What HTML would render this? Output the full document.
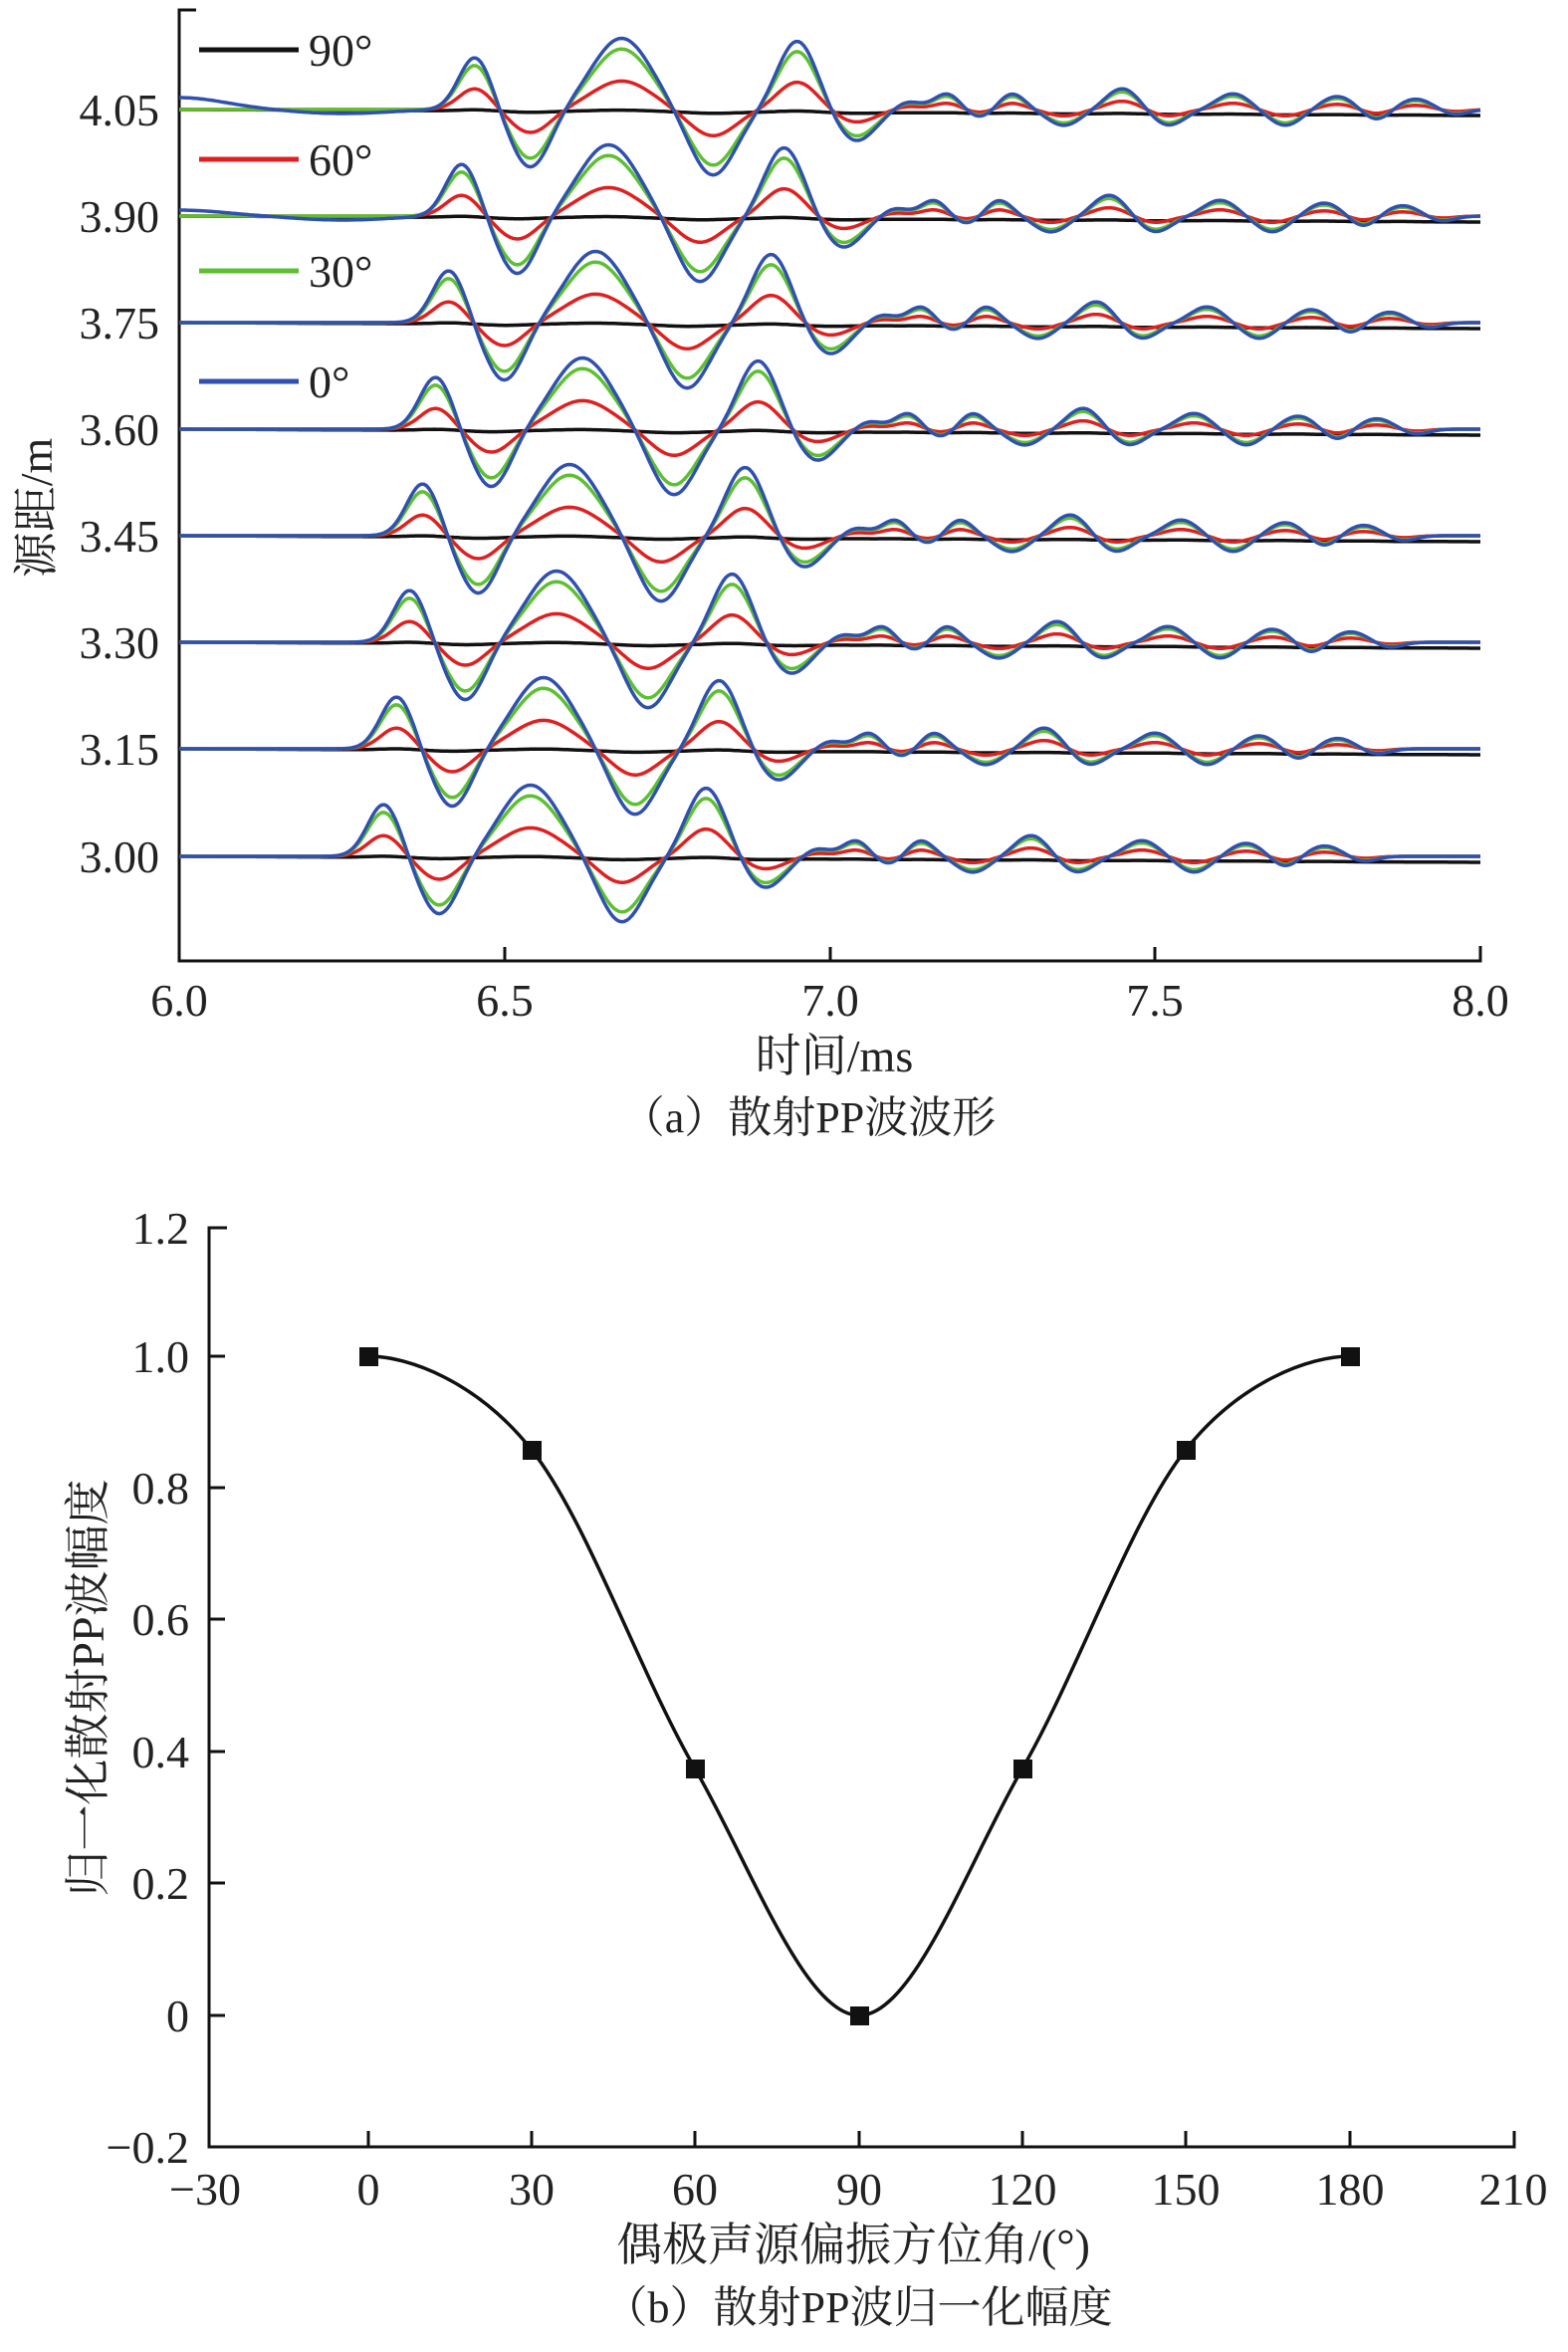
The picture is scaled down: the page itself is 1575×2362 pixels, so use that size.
<!DOCTYPE html>
<html><head><meta charset="utf-8">
<style>
html,body{margin:0;padding:0;background:#fff;}
svg{display:block;}
text{font-family:"Liberation Serif","Noto Serif CJK SC",serif;fill:#222;}
</style></head>
<body>
<svg id="s" width="1575" height="2362" viewBox="0 0 1575 2362" xmlns="http://www.w3.org/2000/svg">
<g stroke="#111" stroke-width="3" fill="none">
<path d="M197 10 H180 V965 H1487 V950"/>
<path d="M180 110 h14 M180 217 h14 M180 324 h14 M180 431 h14 M180 538 h14 M180 645 h14 M180 752 h14 M180 860 h14"/>
<path d="M507 965 v-14 M834 965 v-14 M1160 965 v-14"/>
</g>
<g font-size="46" text-anchor="end">
<text x="160" y="126">4.05</text><text x="160" y="233">3.90</text><text x="160" y="340">3.75</text>
<text x="160" y="447">3.60</text><text x="160" y="554">3.45</text><text x="160" y="661">3.30</text>
<text x="160" y="768">3.15</text><text x="160" y="876">3.00</text>
</g>
<g font-size="46" text-anchor="middle">
<text x="180" y="1020">6.0</text><text x="507" y="1020">6.5</text><text x="834" y="1020">7.0</text>
<text x="1160" y="1020">7.5</text><text x="1487" y="1020">8.0</text>
<text x="838" y="1076">时间/ms</text>
<text x="812" y="1137" font-size="44">（a）散射PP波波形</text>
</g>
<text font-size="46" text-anchor="middle" transform="translate(52,510) rotate(-90)">源距/m</text>
<g id="waves" fill="none" stroke-width="3.5" stroke-linejoin="round"></g>
<g stroke-width="5">
<line x1="200" y1="50" x2="300" y2="50" stroke="#111"/>
<line x1="200" y1="160" x2="300" y2="160" stroke="#e02020"/>
<line x1="200" y1="272" x2="300" y2="272" stroke="#5cc030"/>
<line x1="200" y1="383" x2="300" y2="383" stroke="#3050b0"/>
</g>
<g font-size="46"><text x="310" y="66">90°</text><text x="310" y="176">60°</text><text x="310" y="288">30°</text><text x="310" y="399">0°</text></g>

<g stroke="#111" stroke-width="3" fill="none">
<path d="M228 1233 H210 V2156 H1521 V2140"/>
<path d="M210 1362 h16 M210 1494 h16 M210 1626 h16 M210 1759 h16 M210 1891 h16 M210 2024 h16"/>
<path d="M370 2156 v-16 M534 2156 v-16 M698 2156 v-16 M863 2156 v-16 M1027 2156 v-16 M1191 2156 v-16 M1356 2156 v-16"/>
</g>
<g font-size="46" text-anchor="end">
<text x="190" y="1249">1.2</text><text x="190" y="1378">1.0</text><text x="190" y="1510">0.8</text>
<text x="190" y="1642">0.6</text><text x="190" y="1775">0.4</text><text x="190" y="1907">0.2</text>
<text x="190" y="2040">0</text><text x="190" y="2172">−0.2</text>
</g>
<g font-size="46" text-anchor="middle">
<text x="206" y="2214">−30</text><text x="370" y="2214">0</text><text x="534" y="2214">30</text>
<text x="698" y="2214">60</text><text x="863" y="2214">90</text><text x="1027" y="2214">120</text>
<text x="1191" y="2214">150</text><text x="1356" y="2214">180</text><text x="1520" y="2214">210</text>
<text x="857" y="2270">偶极声源偏振方位角/(°)</text>
<text x="862" y="2332" font-size="44">（b）散射PP波归一化幅度</text>
</g>
<text font-size="46" text-anchor="middle" transform="translate(104,1695) rotate(-90)">归一化散射PP波幅度</text>
<path id="curve" fill="none" stroke="#111" stroke-width="3.5"/>
<g fill="#111">
<rect x="361" y="1353" width="19" height="19"/><rect x="525" y="1447" width="19" height="19"/>
<rect x="689" y="1767" width="19" height="19"/><rect x="854" y="2015" width="19" height="19"/>
<rect x="1018" y="1767" width="19" height="19"/><rect x="1182" y="1447" width="19" height="19"/>
<rect x="1347" y="1353" width="19" height="19"/>
</g>
</svg>
<script>
(function(){
var X=function(t){return 180+(t-6)*653.5;};
var bumps=[[6.455,1.0,.025],[6.54,-1.1,.03],[6.68,1.35,.045],[6.82,-1.25,.035],[6.95,1.3,.03],[7.04,-0.6,.03],
[7.12,0.15,.02],[7.18,0.3,.02],[7.23,-0.15,.02],[7.28,0.3,.02],[7.36,-0.3,.025],[7.45,0.4,.025],[7.52,-0.3,.025],
[7.62,0.3,.025],[7.7,-0.3,.025],[7.78,0.25,.025],[7.84,-0.2,.02],[7.9,0.2,.025],[7.96,-0.1,.02]];
function s(t){var v=0;for(var i=0;i<bumps.length;i++){var b=bumps[i],d=(t-b[0])/b[2];v+=b[1]*Math.exp(-d*d/2);}return v;}
var base=[110,217,324,431,538,645,752,860];
var cols=[["#111",0.02],["#e02020",0.4],["#5cc030",0.85],["#3050b0",1.0]];
var g=document.getElementById('waves'),ns="http://www.w3.org/2000/svg";
for(var c=0;c<4;c++){for(var k=0;k<8;k++){
 var sh=-0.02*k,d="";
 for(var t=6.0;t<=8.0001;t+=0.004){
  var v=s(t-sh)*cols[c][1]*53;
  if(c==3&&k<2){v+=12*Math.exp(-Math.pow((t-6.0)/0.1,2))*(1-k*0.5)-4*Math.exp(-Math.pow((t-6.25)/0.1,2));}
  var y=base[k]-v+(c==0?(t-6)*3:0);
  d+=(d?"L":"M")+X(t).toFixed(1)+" "+y.toFixed(1);
 }
 var p=document.createElementNS(ns,'path');p.setAttribute('d',d);p.setAttribute('stroke',cols[c][0]);g.appendChild(p);
}}
var P=[[370,1362],[534,1456],[698,1776],[863,2024],[1027,1776],[1191,1456],[1356,1362]];
var pts=[[206,1456]].concat(P).concat([[1520,1456]]);
var cd="M"+P[0][0]+" "+P[0][1];
for(var i=1;i<pts.length-2;i++){
 var p0=pts[i-1],p1=pts[i],p2=pts[i+1],p3=pts[i+2];
 var c1=[p1[0]+(p2[0]-p0[0])/6,p1[1]+(p2[1]-p0[1])/6],c2=[p2[0]-(p3[0]-p1[0])/6,p2[1]-(p3[1]-p1[1])/6];
 if(i==1)c1=[p1[0]+40,p1[1]];
 if(i==pts.length-3)c2=[p2[0]-40,p2[1]];
 cd+="C"+c1[0].toFixed(1)+" "+c1[1].toFixed(1)+" "+c2[0].toFixed(1)+" "+c2[1].toFixed(1)+" "+p2[0]+" "+p2[1];
}
document.getElementById('curve').setAttribute('d',cd);
})();
</script>
</body></html>
